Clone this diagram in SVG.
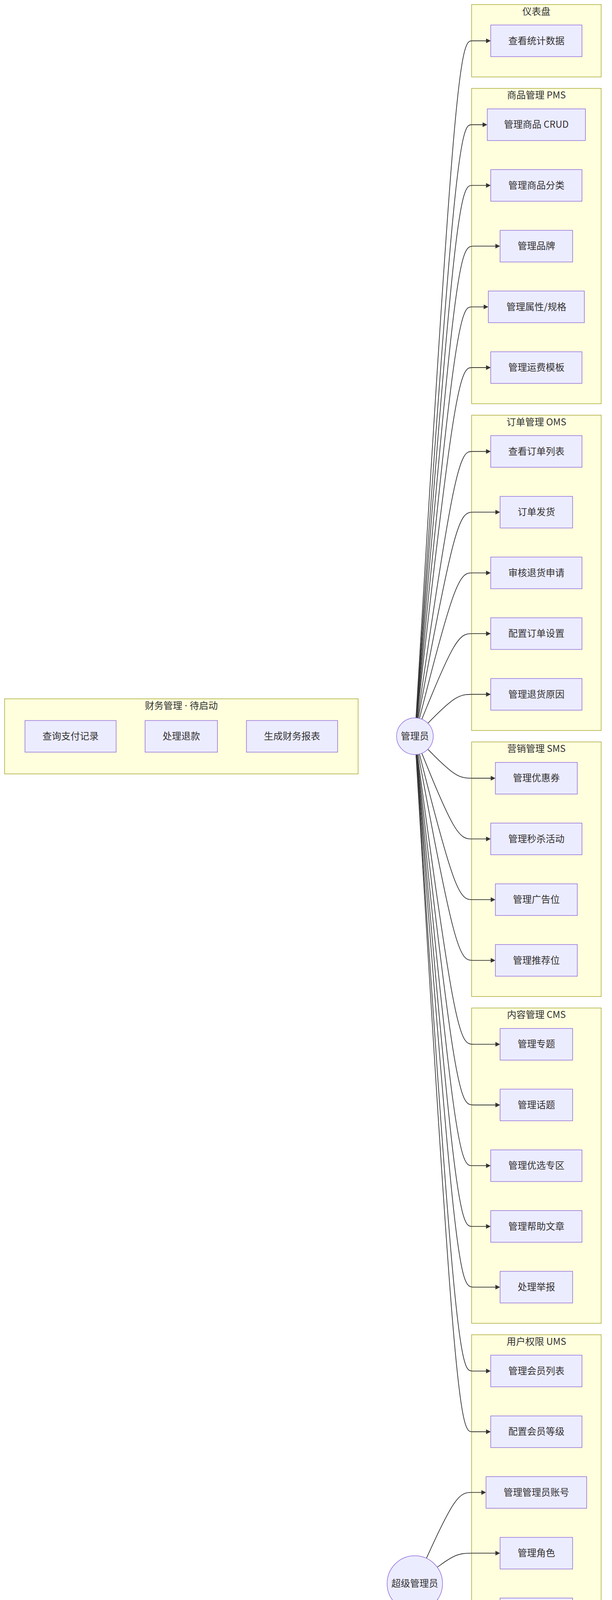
<svg xmlns="http://www.w3.org/2000/svg" width="1568" height="4438" viewBox="0 0 1568 4438">
<style>
.cluster rect{fill:#ffffde;stroke:#aaaa33;stroke-width:1.5}
.node rect,.node circle{fill:#ECECFF;stroke:#9370DB;stroke-width:1.5}
text{font-family:"Noto Sans CJK SC","Noto Sans",sans-serif;font-size:24px;fill:#333;text-anchor:middle}
.latin{font-family:"Noto Sans",sans-serif}
.edges path{fill:none;stroke:#333;stroke-width:1.8}
</style>
<defs>
<marker id="arrow" viewBox="0 0 10 10" refX="5.42" refY="5" markerUnits="userSpaceOnUse" markerWidth="12" markerHeight="12" orient="auto">
<path d="M0,0 L10,5 L0,10 z" fill="#333" stroke="none"/>
</marker>
</defs>
<rect width="1568" height="4438" fill="#ffffff"/>
<g id="clusters">
<g id="finance" class="cluster"><rect x="11.7" y="1789" width="905.8" height="192.3"/><text x="464.6" y="1814.8">财务管理<tspan class="latin"> · </tspan>待启动</text></g>
<g id="dashboard" class="cluster"><rect x="1208.3" y="11.7" width="332" height="185.3"/><text x="1374.3" y="37.5">仪表盘</text></g>
<g id="pms" class="cluster"><rect x="1208.3" y="226.4" width="332" height="807.1"/><text x="1374.3" y="252.2">商品管理 PMS</text></g>
<g id="oms" class="cluster"><rect x="1208.3" y="1062.9" width="332" height="807.1"/><text x="1374.3" y="1088.7">订单管理 OMS</text></g>
<g id="sms" class="cluster"><rect x="1208.3" y="1899.4" width="332" height="651.7"/><text x="1374.3" y="1925.2">营销管理 SMS</text></g>
<g id="cms" class="cluster"><rect x="1208.3" y="2580.5" width="332" height="807.1"/><text x="1374.3" y="2606.3">内容管理 CMS</text></g>
<g id="ums" class="cluster"><rect x="1208.3" y="3417" width="332" height="962.5"/><text x="1374.3" y="3442.8">用户权限 UMS</text></g>
</g>
<g id="connectors" class="edges">
<path marker-end="url(#arrow)" d="M1065.82,1837.88 L1083.18,1548.98 C1100.55,1260.09 1135.27,682.29 1159.02,393.40 C1182.77,104.5 1195.53,104.5 1210.08,104.5 L1251.8,104.5"/>
<path marker-end="url(#arrow)" d="M1066.20,1837.91 L1083.50,1584.80 C1100.80,1331.69 1135.40,825.46 1159.08,572.35 C1182.77,319.24 1195.53,319.24 1208.6,319.24 L1243,319.24"/>
<path marker-end="url(#arrow)" d="M1066.56,1837.93 L1083.80,1610.72 C1101.04,1383.51 1135.52,929.10 1159.14,701.89 C1182.77,474.68 1195.53,474.68 1210.1,474.68 L1251.8,474.68"/>
<path marker-end="url(#arrow)" d="M1066.99,1837.97 L1084.16,1636.66 C1101.33,1435.35 1135.66,1032.74 1159.22,831.43 C1182.77,630.12 1195.53,630.12 1214.1,630.12 L1275.8,630.12"/>
<path marker-end="url(#arrow)" d="M1067.55,1838.02 L1084.63,1662.61 C1101.70,1487.20 1135.85,1136.38 1159.31,960.97 C1182.77,785.56 1195.53,785.56 1209.1,785.56 L1245.7,785.56"/>
<path marker-end="url(#arrow)" d="M1068.29,1838.10 L1085.24,1688.58 C1102.19,1539.07 1136.10,1240.03 1159.43,1090.52 C1182.77,941 1195.53,941 1210.1,941 L1251.8,941"/>
<path marker-end="url(#arrow)" d="M1069.83,1838.30 L1086.53,1724.54 C1103.22,1610.78 1136.61,1383.26 1159.69,1269.50 C1182.77,1155.74 1195.53,1155.74 1210.1,1155.74 L1251.8,1155.74"/>
<path marker-end="url(#arrow)" d="M1071.62,1838.60 L1088.02,1750.70 C1104.41,1662.79 1137.21,1486.99 1159.99,1399.08 C1182.77,1311.18 1195.53,1311.18 1214.1,1311.18 L1275.8,1311.18"/>
<path marker-end="url(#arrow)" d="M1074.65,1839.27 L1090.54,1777.16 C1106.43,1715.05 1138.22,1590.84 1160.49,1528.73 C1182.77,1466.62 1195.53,1466.62 1210.1,1466.62 L1251.8,1466.62"/>
<path marker-end="url(#arrow)" d="M1080.73,1841.27 L1095.61,1804.74 C1110.49,1768.20 1140.24,1695.13 1161.51,1658.60 C1182.77,1622.06 1195.53,1622.06 1210.1,1622.06 L1251.8,1622.06"/>
<path marker-end="url(#arrow)" d="M1096.19,1851.52 L1108.49,1839.18 C1120.79,1826.85 1145.40,1802.17 1164.08,1789.84 C1182.77,1777.5 1195.53,1777.5 1210.1,1777.5 L1251.8,1777.5"/>
<path marker-end="url(#arrow)" d="M1096.17,1918.10 L1108.48,1930.46 C1120.78,1942.81 1145.39,1967.53 1164.08,1979.88 C1182.77,1992.24 1195.53,1992.24 1212.1,1992.24 L1263.8,1992.24"/>
<path marker-end="url(#arrow)" d="M1080.72,1928.33 L1095.60,1964.89 C1110.48,2001.45 1140.24,2074.56 1161.50,2111.12 C1182.77,2147.68 1195.53,2147.68 1210.1,2147.68 L1251.8,2147.68"/>
<path marker-end="url(#arrow)" d="M1074.65,1930.33 L1090.54,1992.46 C1106.43,2054.59 1138.22,2178.86 1160.49,2240.99 C1182.77,2303.12 1195.53,2303.12 1212.1,2303.12 L1263.8,2303.12"/>
<path marker-end="url(#arrow)" d="M1071.62,1931.00 L1088.02,2018.93 C1104.41,2106.85 1137.21,2282.71 1159.99,2370.63 C1182.77,2458.56 1195.53,2458.56 1212.1,2458.56 L1263.8,2458.56"/>
<path marker-end="url(#arrow)" d="M1069.32,1931.37 L1086.10,2055.03 C1102.88,2178.68 1136.44,2425.99 1159.60,2549.65 C1182.77,2673.3 1195.53,2673.3 1214.1,2673.3 L1275.8,2673.3"/>
<path marker-end="url(#arrow)" d="M1068.29,1931.50 L1085.24,2081.04 C1102.19,2230.58 1136.10,2529.66 1159.43,2679.20 C1182.77,2828.74 1195.53,2828.74 1214.1,2828.74 L1275.8,2828.74"/>
<path marker-end="url(#arrow)" d="M1067.55,1931.58 L1084.63,2107.01 C1101.70,2282.45 1135.85,2633.31 1159.31,2808.75 C1182.77,2984.18 1195.53,2984.18 1210.1,2984.18 L1251.8,2984.18"/>
<path marker-end="url(#arrow)" d="M1066.99,1931.63 L1084.16,2132.96 C1101.33,2334.29 1135.66,2736.96 1159.22,2938.29 C1182.77,3139.62 1195.53,3139.62 1210.1,3139.62 L1251.8,3139.62"/>
<path marker-end="url(#arrow)" d="M1066.56,1931.67 L1083.80,2158.90 C1101.04,2386.13 1135.52,2840.60 1159.14,3067.83 C1182.77,3295.06 1195.53,3295.06 1214.1,3295.06 L1275.8,3295.06"/>
<path marker-end="url(#arrow)" d="M1066.09,1931.70 L1083.41,2194.72 C1100.73,2457.73 1135.36,2983.77 1159.07,3246.78 C1182.77,3509.8 1195.53,3509.8 1210.1,3509.8 L1251.8,3509.8"/>
<path marker-end="url(#arrow)" d="M1065.82,1931.72 L1083.18,2220.64 C1100.55,2509.56 1135.27,3087.40 1159.02,3376.32 C1182.77,3665.24 1195.53,3665.24 1210.1,3665.24 L1251.8,3665.24"/>
<path marker-end="url(#arrow)" d="M1092.46,3989.29 L1105.38,3961.19 C1118.31,3933.09 1144.15,3876.88 1163.46,3848.78 C1182.77,3820.68 1195.53,3820.68 1208.1,3820.68 L1239.8,3820.68"/>
<path marker-end="url(#arrow)" d="M1120.29,4012.14 L1128.58,4006.14 C1136.86,4000.13 1153.43,3988.13 1168.10,3982.12 C1182.77,3976.12 1195.53,3976.12 1214.1,3976.12 L1275.8,3976.12"/>
<path marker-end="url(#arrow)" d="M1120.27,4095.49 L1128.56,4101.50 C1136.85,4107.51 1153.42,4119.54 1168.10,4125.55 C1182.77,4131.56 1195.53,4131.56 1214.1,4131.56 L1275.8,4131.56"/>
<path marker-end="url(#arrow)" d="M1092.46,4118.31 L1105.38,4146.43 C1118.31,4174.54 1144.15,4230.77 1163.46,4258.89 C1182.77,4287 1195.53,4287 1214.1,4287 L1275.8,4287"/>
</g>
<g id="nodes">
<g id="admin" class="node"><circle cx="1063" cy="1884.8" r="47"/><text x="1063" y="1892.8">管理员</text></g>
<g id="superadmin" class="node"><circle cx="1062.8" cy="4053.8" r="71"/><text x="1062.8" y="4061.8">超级管理员</text></g>
<g id="fin1" class="node"><rect x="64" y="1844.5" width="233.5" height="81"/><text x="180.75" y="1893">查询支付记录</text></g>
<g id="fin2" class="node"><rect x="371.7" y="1844.5" width="185.5" height="81"/><text x="464.45" y="1893">处理退款</text></g>
<g id="fin3" class="node"><rect x="631.4" y="1844.5" width="233.7" height="81"/><text x="748.25" y="1893">生成财务报表</text></g>
<g id="n0" class="node"><rect x="1257.3" y="64" width="233.8" height="81"/><text x="1374.2" y="112.5">查看统计数据</text></g>
<g id="n1" class="node"><rect x="1248.5" y="278.74" width="251.4" height="81"/><text x="1374.2" y="327.24">管理商品 CRUD</text></g>
<g id="n2" class="node"><rect x="1257.3" y="434.18" width="233.8" height="81"/><text x="1374.2" y="482.68">管理商品分类</text></g>
<g id="n3" class="node"><rect x="1281.3" y="589.62" width="185.8" height="81"/><text x="1374.2" y="638.12">管理品牌</text></g>
<g id="n4" class="node"><rect x="1251.2" y="745.06" width="246" height="81"/><text x="1374.2" y="793.56">管理属性/规格</text></g>
<g id="n5" class="node"><rect x="1257.3" y="900.5" width="233.8" height="81"/><text x="1374.2" y="949">管理运费模板</text></g>
<g id="n6" class="node"><rect x="1257.3" y="1115.24" width="233.8" height="81"/><text x="1374.2" y="1163.74">查看订单列表</text></g>
<g id="n7" class="node"><rect x="1281.3" y="1270.68" width="185.8" height="81"/><text x="1374.2" y="1319.18">订单发货</text></g>
<g id="n8" class="node"><rect x="1257.3" y="1426.12" width="233.8" height="81"/><text x="1374.2" y="1474.62">审核退货申请</text></g>
<g id="n9" class="node"><rect x="1257.3" y="1581.56" width="233.8" height="81"/><text x="1374.2" y="1630.06">配置订单设置</text></g>
<g id="n10" class="node"><rect x="1257.3" y="1737" width="233.8" height="81"/><text x="1374.2" y="1785.5">管理退货原因</text></g>
<g id="n11" class="node"><rect x="1269.3" y="1951.74" width="209.8" height="81"/><text x="1374.2" y="2000.24">管理优惠券</text></g>
<g id="n12" class="node"><rect x="1257.3" y="2107.18" width="233.8" height="81"/><text x="1374.2" y="2155.68">管理秒杀活动</text></g>
<g id="n13" class="node"><rect x="1269.3" y="2262.62" width="209.8" height="81"/><text x="1374.2" y="2311.12">管理广告位</text></g>
<g id="n14" class="node"><rect x="1269.3" y="2418.06" width="209.8" height="81"/><text x="1374.2" y="2466.56">管理推荐位</text></g>
<g id="n15" class="node"><rect x="1281.3" y="2632.8" width="185.8" height="81"/><text x="1374.2" y="2681.3">管理专题</text></g>
<g id="n16" class="node"><rect x="1281.3" y="2788.24" width="185.8" height="81"/><text x="1374.2" y="2836.74">管理话题</text></g>
<g id="n17" class="node"><rect x="1257.3" y="2943.68" width="233.8" height="81"/><text x="1374.2" y="2992.18">管理优选专区</text></g>
<g id="n18" class="node"><rect x="1257.3" y="3099.12" width="233.8" height="81"/><text x="1374.2" y="3147.62">管理帮助文章</text></g>
<g id="n19" class="node"><rect x="1281.3" y="3254.56" width="185.8" height="81"/><text x="1374.2" y="3303.06">处理举报</text></g>
<g id="n20" class="node"><rect x="1257.3" y="3469.3" width="233.8" height="81"/><text x="1374.2" y="3517.8">管理会员列表</text></g>
<g id="n21" class="node"><rect x="1257.3" y="3624.74" width="233.8" height="81"/><text x="1374.2" y="3673.24">配置会员等级</text></g>
<g id="n22" class="node"><rect x="1245.3" y="3780.18" width="257.8" height="81"/><text x="1374.2" y="3828.68">管理管理员账号</text></g>
<g id="n23" class="node"><rect x="1281.3" y="3935.62" width="185.8" height="81"/><text x="1374.2" y="3984.12">管理角色</text></g>
<g id="n24" class="node"><rect x="1281.3" y="4091.06" width="185.8" height="81"/><text x="1374.2" y="4139.56">管理菜单</text></g>
<g id="n25" class="node"><rect x="1281.3" y="4246.5" width="185.8" height="81"/><text x="1374.2" y="4295">管理资源</text></g>
</g>
</svg>
